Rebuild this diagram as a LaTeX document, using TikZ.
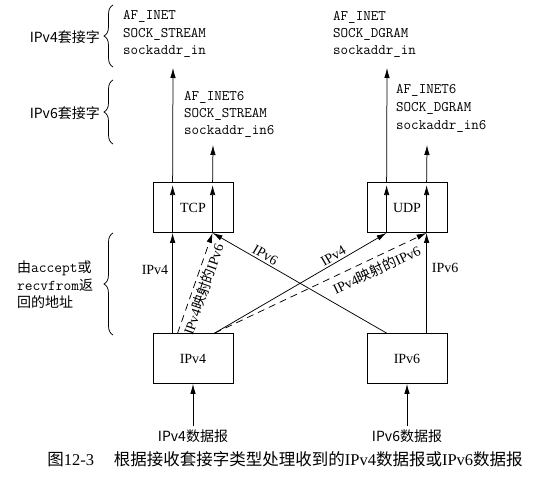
\documentclass[tikz,border=0pt]{standalone}
\usepackage{fontspec}
\setmainfont{Liberation Serif}
\newfontfamily\cjk{Noto Sans CJK SC}
\usetikzlibrary{arrows.meta,decorations.pathreplacing,calc}
\begin{document}
\begin{tikzpicture}[x=1pt,y=-1pt,
  box/.style={draw, line width=0.8pt, minimum width=80pt, minimum height=50pt, inner sep=0pt, font=\fontsize{14}{16}\selectfont},
  mono/.style={font=\ttfamily\fontsize{14.6}{17}\selectfont, anchor=base west, inner sep=0pt},
  arr/.style={-{Latex[length=10pt,width=5.5pt]}, line width=0.75pt},
  dsh/.style={arr, dash pattern=on 7pt off 5pt},
  lbl/.style={font=\fontsize{14}{16}\selectfont},
  cjklbl/.style={font=\cjk\fontsize{14}{17}\selectfont},
  brc/.style={decorate, decoration={brace, amplitude=9pt}, line width=0.75pt},
]
\useasboundingbox (0,0) rectangle (537,481);

% boxes
\node[box] (tcp) at (193,207.5) {TCP};
\node[box] (udp) at (407,207.5) {UDP};
\node[box] (ip4) at (193,358.5) {IPv4};
\node[box] (ip6) at (407,358.5) {IPv6};

% attachment points
\coordinate (t1b) at ($(tcp.south west)+(20,0)$);
\coordinate (t2b) at ($(tcp.south west)+(60,0)$);
\coordinate (t1t) at ($(tcp.north west)+(20,0)$);
\coordinate (t2t) at ($(tcp.north west)+(60,0)$);
\coordinate (u1b) at ($(udp.south west)+(20,0)$);
\coordinate (u2b) at ($(udp.south west)+(60,0)$);
\coordinate (u1t) at ($(udp.north west)+(20,0)$);
\coordinate (u2t) at ($(udp.north west)+(60,0)$);
\coordinate (a41) at ($(ip4.north west)+(20,0)$);
\coordinate (a42) at ($(ip4.north west)+(25,0)$);
\coordinate (a43) at ($(ip4.north west)+(62,0)$);
\coordinate (b61) at ($(ip6.north west)+(20,0)$);
\coordinate (b62) at ($(ip6.north west)+(60,0)$);
\coordinate (tcp4end) at (173,68);
\coordinate (tcp6end) at (213,145);
\coordinate (udp4end) at (387,68);
\coordinate (udp6end) at (427,145);

% socket texts
\node[mono] (tv4a) at (123,19.7) {AF\_INET};
\node[mono] (tv4b) at (123,37.2) {SOCK\_STREAM};
\node[mono] (tv4c) at (123,54.7) {sockaddr\_in};
\node[mono] (tv6a) at (184,101) {AF\_INET6};
\node[mono] (tv6b) at (184,118) {SOCK\_STREAM};
\node[mono] (tv6c) at (184,135) {sockaddr\_in6};
\node[mono] (uv4a) at (333,21) {AF\_INET};
\node[mono] (uv4b) at (333,38) {SOCK\_DGRAM};
\node[mono] (uv4c) at (333,55) {sockaddr\_in};
\node[mono] (uv6a) at (396,94) {AF\_INET6};
\node[mono] (uv6b) at (396,112) {SOCK\_DGRAM};
\node[mono] (uv6c) at (396,130) {sockaddr\_in6};

% braces and their labels
\draw[brc] (113,67) -- (113,5);
\draw[brc] (113,144) -- (113,80);
\draw[brc] (113,335) -- (113,233);
\node[cjklbl, anchor=east, inner sep=0pt] (l4) at (100,37) {IPv4套接字};
\node[cjklbl, anchor=east, inner sep=0pt] (l6) at (100,113) {IPv6套接字};
\node[cjklbl, anchor=base west, inner sep=0pt] (r1) at (17,272) {由{\ttfamily\fontsize{15}{17}\selectfont accept}或};
\node[cjklbl, anchor=base west, inner sep=0pt] (r2) at (17,290) {{\ttfamily\fontsize{15}{17}\selectfont recvfrom}返};
\node[cjklbl, anchor=base west, inner sep=0pt] (r3) at (17,307) {回的地址};

% arrows through TCP / UDP
\draw[arr] (t1b) -- ($(t1t)+(0,3)$);
\draw[arr] (t2b) -- ($(t2t)+(0,3)$);
\draw[arr] (u1b) -- ($(u1t)+(0,3)$);
\draw[arr] (u2b) -- ($(u2t)+(0,3)$);
\draw[arr] (t1t) -- (tcp4end);
\draw[arr] (t2t) -- (tcp6end);
\draw[arr] (u1t) -- (udp4end);
\draw[arr] (u2t) -- (udp6end);

% connectors from IP layers
\draw[arr] (a41) -- (t1b) node[lbl, pos=0.63, left, inner sep=4pt] {IPv4};
\draw[dsh] (a42) -- (t2b) node[lbl, sloped, pos=0.47, below, inner sep=3pt] {IPv4{\cjk 映射的}IPv6};
\draw[arr] (b61) -- (t2b) node[lbl, sloped, pos=0.718, above, inner sep=2pt] {IPv6};
\draw[arr] (a43) -- (u1b) node[lbl, sloped, pos=0.71, above, inner sep=2pt] {IPv4};
\draw[dsh] (a43) -- (u2b) node[lbl, sloped, pos=0.74, below, inner sep=5pt] {IPv4{\cjk 映射的}IPv6};
\draw[arr] (b62) -- (u2b) node[lbl, pos=0.65, right, inner sep=5pt] {IPv6};

% datagrams
\node[cjklbl] (d4) at (193,436) {IPv4数据报};
\node[cjklbl] (d6) at (407,436) {IPv6数据报};
\draw[arr] (d4) -- (ip4);
\draw[arr] (d6) -- (ip6);

% caption
\node[font=\cjk\fontsize{16.5}{19}\selectfont] (cap) at (285,459) {图{\rmfamily 12-3}\hspace{1.2em}根据接收套接字类型处理收到的{\rmfamily IPv4}数据报或{\rmfamily IPv6}数据报};
\end{tikzpicture}
\end{document}
